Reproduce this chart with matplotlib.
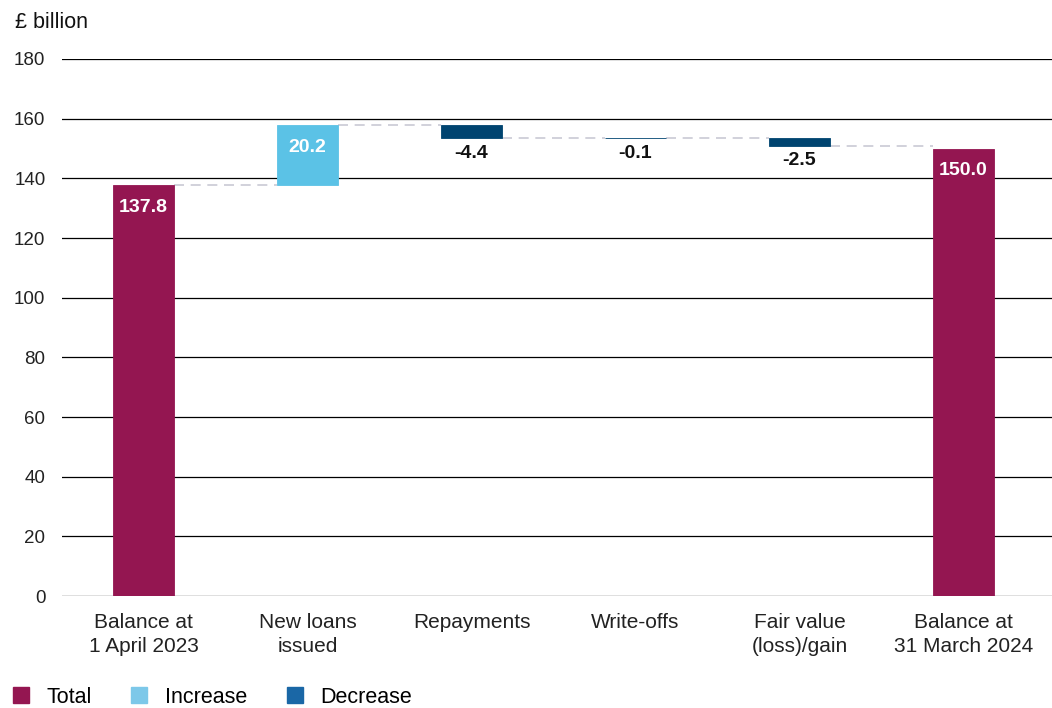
import matplotlib.pyplot as plt
from matplotlib.lines import Line2D

plt.rcParams['font.family'] = ['Liberation Sans', 'DejaVu Sans']

categories = ["Balance at\n1 April 2023", "New loans\nissued", "Repayments",
              "Write-offs", "Fair value\n(loss)/gain", "Balance at\n31 March 2024"]
changes = [137.8, 20.2, -4.4, -0.1, -2.5, 150.0]
kinds = ["total", "increase", "decrease", "decrease", "decrease", "total"]
yticks = [0, 20, 40, 60, 80, 100, 120, 140, 160, 180]

colors = {"total": "#941651", "increase": "#5BC2E6", "decrease": "#004470"}
legend_colors = {"Total": "#941651", "Increase": "#7DC8E9", "Decrease": "#1A67A6"}

fig = plt.figure(figsize=(10.52, 7.08), dpi=100)
ax = fig.add_axes([0.059, 0.158, 0.941, 0.7587])

width = 0.372
running = 0.0
bottoms, heights, ends = [], [], []
for val, kind in zip(changes, kinds):
    if kind == "total":
        bottoms.append(0)
        heights.append(val)
        running = val
    else:
        bottoms.append(running if val > 0 else running + val)
        heights.append(abs(val))
        running += val
    ends.append(running)

x = list(range(len(categories)))
bar_cols = [colors[k] for k in kinds]
ax.bar(x, heights, bottom=bottoms, width=width, color=bar_cols,
       edgecolor=bar_cols, linewidth=0.6, zorder=3)

# connectors
for i in range(len(x) - 1):
    ax.plot([x[i] + width / 2, x[i + 1] - width / 2], [ends[i], ends[i]],
            color="#C9C9D4", lw=1.2, ls=(0, (6, 4)), zorder=2)

# value labels
for i, (val, kind) in enumerate(zip(changes, kinds)):
    top = bottoms[i] + heights[i]
    label = f"{val:.1f}"
    if kind in ("total", "increase"):
        ax.annotate(label, (x[i], top), xytext=(0, -10), textcoords="offset points",
                    ha="center", va="top", color="white", fontsize=14,
                    fontweight="bold", zorder=4)
    else:
        ax.annotate(label, (x[i], bottoms[i]), xytext=(0, -5), textcoords="offset points",
                    ha="center", va="top", color="#111111", fontsize=14,
                    fontweight="bold", zorder=4)

ax.set_xlim(-0.497, 5.54)
ax.set_ylim(0, 180)
ax.set_yticks(yticks)
ax.set_xticks(x)
ax.set_xticklabels(categories, fontsize=15, color="#222222", linespacing=1.35)
ax.tick_params(axis="y", labelsize=13.5, colors="#222222", length=0, pad=12)
ax.tick_params(axis="x", length=0, pad=12)
ax.grid(axis="y", color="black", lw=0.9, zorder=1)
for s in ax.spines.values():
    s.set_visible(False)

fig.text(0.014, 0.968, "£ billion", fontsize=15.5, color="#111111", va="center")

handles = [Line2D([], [], marker="s", ls="none", markersize=11.5, color=c)
           for c in legend_colors.values()]
fig.legend(handles, list(legend_colors.keys()), loc="center left",
           bbox_to_anchor=(0.0095, 0.0155), ncol=3, frameon=False, fontsize=15.5,
           handletextpad=0.7, columnspacing=1.7, handlelength=1.0, borderpad=0,
           borderaxespad=0)

fig.savefig("out.png", dpi=100)
